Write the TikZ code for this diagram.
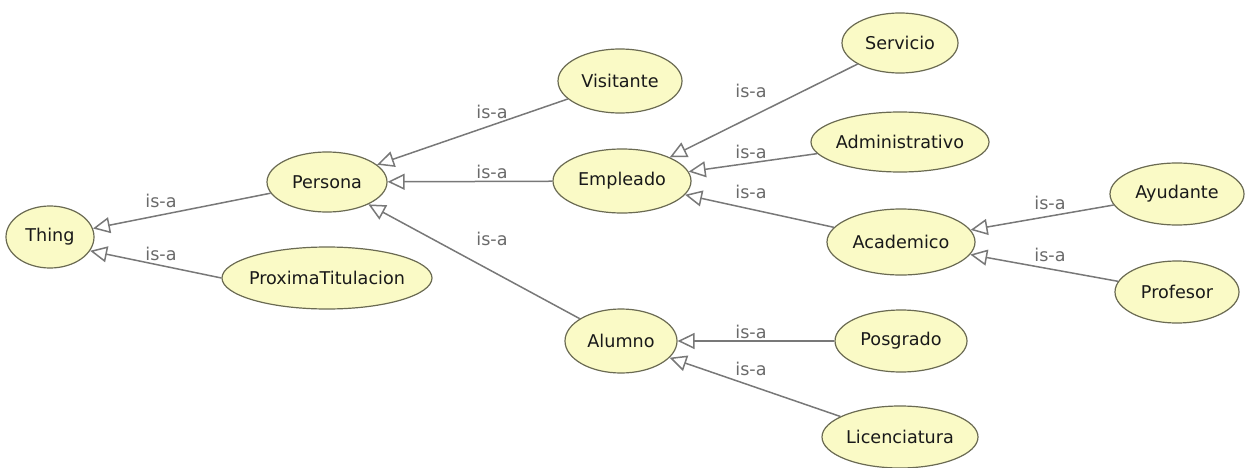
\documentclass[tikz,border=0pt]{standalone}
\usepackage{fontspec}
\setmainfont{DejaVu Sans}
\usetikzlibrary{shapes.geometric,arrows.meta}
\definecolor{classfill}{HTML}{FAFAC6}
\definecolor{classline}{HTML}{6A6A52}
\definecolor{edgegray}{HTML}{787878}
\definecolor{labelgray}{HTML}{6A6A6A}
\tikzset{
  cls/.style={ellipse, draw=classline, fill=classfill, line width=1.2pt,
    inner sep=0pt, text=black!90, font=\fontsize{17.6}{20}\selectfont},
  isa/.style={draw=edgegray, line width=1.5pt,
    -{Triangle[open, length=17pt, width=16pt, fill=white]}},
  isalabel/.style={text=labelgray, inner sep=0pt, font=\fontsize{17.6}{20}\selectfont}
}
\begin{document}
\begin{tikzpicture}[x=1pt,y=-1pt]
\useasboundingbox (0,0) rectangle (1249,468);
% classes
\node[cls, minimum width=88pt, minimum height=62pt]  (thing)  at (50,237)  {Thing};
\node[cls, minimum width=120pt, minimum height=60pt] (persona) at (327,182) {Persona};
\node[cls, minimum width=210pt, minimum height=62pt, inner xsep=-7pt] (prox) at (327,278) {ProximaTitulacion};
\node[cls, minimum width=124pt, minimum height=64pt] (visit)  at (620,81)  {Visitante};
\node[cls, minimum width=138pt, minimum height=64pt] (empl)   at (622,181) {Empleado};
\node[cls, minimum width=112pt, minimum height=64pt] (alum)   at (621,341) {Alumno};
\node[cls, minimum width=116pt, minimum height=60pt] (serv)   at (900,43)  {Servicio};
\node[cls, minimum width=178pt, minimum height=60pt, inner xsep=-2pt] (admin) at (900,142) {Administrativo};
\node[cls, minimum width=148pt, minimum height=66pt] (acad)   at (901,242) {Academico};
\node[cls, minimum width=132pt, minimum height=62pt] (posg)   at (901,341) {Posgrado};
\node[cls, minimum width=156pt, minimum height=62pt] (lic)    at (900,437) {Licenciatura};
\node[cls, minimum width=134pt, minimum height=62pt] (ayud)   at (1177,194) {Ayudante};
\node[cls, minimum width=124pt, minimum height=62pt] (prof)   at (1177,292) {Profesor};
% subclass links
\draw[isa] (persona) -- (thing);
\draw[isa] (prox.west) -- (thing.-19);
\draw[isa] (visit) -- (persona);
\draw[isa] (empl) -- (persona);
\draw[isa] (alum) -- (persona);
\draw[isa] (serv) -- (empl);
\draw[isa] (admin) -- (empl);
\draw[isa] (acad) -- (empl);
\draw[isa] (ayud) -- (acad);
\draw[isa] (prof) -- (acad);
\draw[isa] (posg) -- (alum);
\draw[isa] (lic) -- (alum);
% link labels
\node[isalabel] (l1)  at (161,201) {is-a};
\node[isalabel] (l2)  at (161,254) {is-a};
\node[isalabel] (l3)  at (492,112) {is-a};
\node[isalabel] (l4)  at (492,172) {is-a};
\node[isalabel] (l5)  at (492,239) {is-a};
\node[isalabel] (l6)  at (751,91)  {is-a};
\node[isalabel] (l7)  at (751,152) {is-a};
\node[isalabel] (l8)  at (751,192) {is-a};
\node[isalabel] (l9)  at (1050,203) {is-a};
\node[isalabel] (l10) at (1050,255) {is-a};
\node[isalabel] (l11) at (751,332) {is-a};
\node[isalabel] (l12) at (751,369) {is-a};
\end{tikzpicture}
\end{document}
